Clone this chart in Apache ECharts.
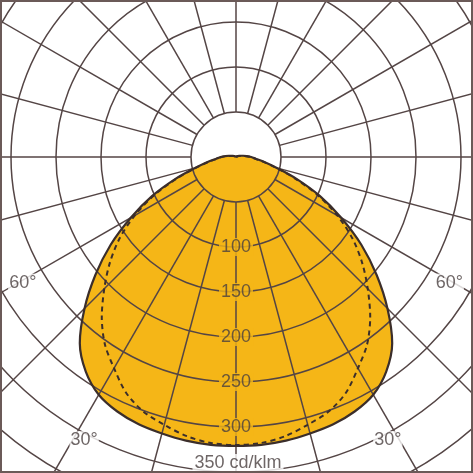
<!DOCTYPE html>
<html>
<head>
<meta charset="utf-8">
<script src="https://cdn.jsdelivr.net/npm/echarts@6/dist/echarts.min.js"></script>
<style>
html, body { margin: 0; padding: 0; background: #fff; }
#chart { width: 473px; height: 473px; }
</style>
</head>
<body>
<div id="chart"></div>
<script>
// gamma angles, degrees from nadir
var gammaAngles = [0, 5, 10, 15, 20, 25, 30, 35, 40, 45, 50, 55, 60, 65, 70, 75, 80, 85, 90, 95, 100, 110, 120, 150, 180];
// C0-C180 plane (solid, filled), cd/klm
var planeC0 = [321, 321, 320, 318, 316, 312, 305, 291, 270, 238, 204, 170, 135, 103, 72, 47, 32, 22, 17, 12, 8, 4, 2, 0, 0];
// C90-C270 plane (dashed), cd/klm
var planeC90 = [320, 319, 315, 308, 301, 289, 271, 254, 232, 207, 183, 158, 130, 100, 70, 46, 31, 21, 16, 11, 7, 3, 1, 0, 0];
// rings and spokes
var ringLabels = [100, 150, 200, 250, 300];
var unitRing = 350;
var spokeAngles = [-180, -165, -150, -135, -120, -105, -90, -75, -60, -45, -30, -15, 0, 15, 30, 45, 60, 75, 90, 105, 120, 135, 150, 165];
var angleLabelText = ['30°', '60°'];
var angleLabelAt = [[357, 28.2], [275, 59.5]];

var gridColor = '#544545';
var inkColor = '#3b2e2b';
var textColor = '#4a4040';
var fillColor = '#F5B617';
var font = "'Liberation Sans', Arial, sans-serif";

// both sides of a plane, right side negative
function planeCurve(vals) {
    var pts = [];
    for (var i = gammaAngles.length - 1; i > 0; i--) {
        pts.push([vals[i], -gammaAngles[i]]);
    }
    for (var j = 0; j < gammaAngles.length; j++) {
        pts.push([vals[j], gammaAngles[j]]);
    }
    return pts;
}

var series = [];

// ---FILL
series.push({
    type: 'line',
    coordinateSystem: 'polar',
    data: planeCurve(planeC0),
    showSymbol: false,
    smooth: 0.3,
    lineStyle: { width: 0 },
    areaStyle: { color: fillColor, opacity: 1 },
    z: 1,
    silent: true
});

// ---SPOKES (start at the 50 ring)
spokeAngles.forEach(function (a) {
    series.push({
        type: 'line',
        coordinateSystem: 'polar',
        data: [[50, a], [500, a]],
        showSymbol: false,
        lineStyle: { color: gridColor, width: 1.5 },
        z: 3,
        silent: true
    });
});

// ---OUTLINES
series.push({
    type: 'line',
    coordinateSystem: 'polar',
    data: planeCurve(planeC0),
    showSymbol: false,
    smooth: 0.3,
    lineStyle: { color: inkColor, width: 2.2 },
    z: 4,
    silent: true
});
series.push({
    type: 'line',
    coordinateSystem: 'polar',
    data: planeCurve(planeC90),
    showSymbol: false,
    smooth: 0.3,
    lineStyle: { color: inkColor, width: 2, type: [5, 4] },
    z: 4,
    silent: true
});

// ---LABELS
series.push({
    type: 'scatter',
    coordinateSystem: 'polar',
    data: ringLabels.map(function (v) { return [v, 0]; }),
    symbolSize: 0,
    z: 6,
    label: {
        show: true,
        position: 'inside',
        formatter: function (p) { return p.value[0]; },
        color: textColor,
        fontFamily: font,
        fontSize: 18,
        backgroundColor: fillColor,
        padding: [0, 2]
    }
});
series.push({
    type: 'scatter',
    coordinateSystem: 'polar',
    data: [[unitRing, 0]],
    symbolSize: 0,
    z: 6,
    label: {
        show: true,
        position: 'inside',
        offset: [2, -9],
        formatter: function (p) { return p.value[0] + ' cd/klm'; },
        color: textColor,
        fontFamily: font,
        fontSize: 18,
        backgroundColor: '#fff',
        padding: [0, 2]
    }
});
var angleData = [];
angleLabelAt.forEach(function (pos, i) {
    angleData.push({ value: [pos[0], pos[1]], name: angleLabelText[i] });
    angleData.push({ value: [pos[0], -pos[1]], name: angleLabelText[i] });
});
series.push({
    type: 'scatter',
    coordinateSystem: 'polar',
    data: angleData,
    symbolSize: 0,
    z: 6,
    label: {
        show: true,
        position: 'inside',
        formatter: '{b}',
        color: textColor,
        fontFamily: font,
        fontSize: 18,
        backgroundColor: '#fff',
        padding: [0, 1]
    }
});

var chart = echarts.init(document.getElementById('chart'));
chart.setOption({
    animation: false,
    polar: {
        center: [236, 157],
        radius: 450
    },
    angleAxis: {
        type: 'value',
        min: -180,
        max: 180,
        startAngle: 90,
        clockwise: true,
        axisLine: { show: false },
        axisTick: { show: false },
        axisLabel: { show: false },
        splitLine: { show: false }
    },
    radiusAxis: {
        type: 'value',
        min: 0,
        max: 500,
        interval: 50,
        z: 3,
        axisLine: { show: false },
        axisTick: { show: false },
        axisLabel: { show: false },
        splitLine: { show: true, lineStyle: { color: gridColor, width: 1.5 } }
    },
    graphic: [{
        type: 'rect',
        shape: { x: 0, y: 0, width: 473, height: 473 },
        style: { fill: 'none', stroke: '#6b5a58', lineWidth: 4 },
        z: 10,
        silent: true
    }],
    series: series
});
</script>
</body>
</html>
